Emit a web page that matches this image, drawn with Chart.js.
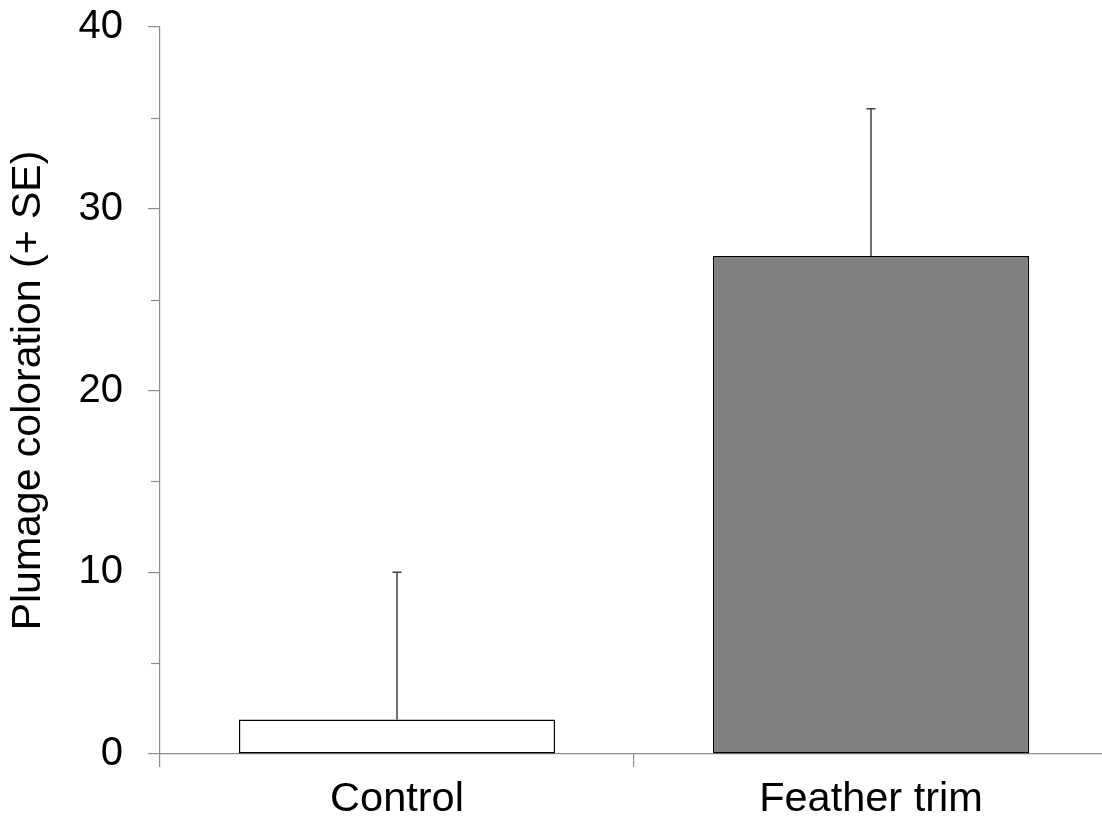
<!DOCTYPE html>
<html>
<head>
<meta charset="utf-8">
<script src="https://cdn.jsdelivr.net/npm/chart.js@4.4.1/dist/chart.umd.min.js"></script>
<style>
  html, body { margin: 0; padding: 0; background: #fff; overflow: hidden; width: 1102px; height: 825px; }
  canvas { display: block; }
</style>
</head>
<body>
<canvas id="myChart" width="1108" height="825"></canvas>
<script>
var groups = ["Control", "Feather trim"];
var means = [1.9, 27.4];
var errors = [8.1, 8.1];
var barColors = ["#ffffff", "#808080"];
var yTicks = [0, 10, 20, 30, 40];
var minorTicks = [5, 15, 25, 35];

var axisGray = "#8c8c8c";
var font = "Liberation Sans, Arial, sans-serif";

// error bars (+ SE only) and the short minor ticks on the y axis
var extras = {
  id: "extras",
  afterDatasetsDraw: function(chart) {
    var ctx = chart.ctx;
    var x = chart.scales.x, y = chart.scales.y;
    ctx.save();
    ctx.strokeStyle = "#404040";
    ctx.lineWidth = 1.5;
    for (var i = 0; i < groups.length; i++) {
      var px = x.getPixelForValue(i);
      var top = y.getPixelForValue(means[i] + errors[i]);
      var base = y.getPixelForValue(means[i]);
      ctx.beginPath();
      ctx.moveTo(px, base);
      ctx.lineTo(px, top);
      ctx.moveTo(px - 4.5, top);
      ctx.lineTo(px + 4.5, top);
      ctx.stroke();
    }
    ctx.strokeStyle = axisGray;
    ctx.lineWidth = 1.2;
    minorTicks.forEach(function(v) {
      var py = Math.round(y.getPixelForValue(v)) + 0.5;
      ctx.beginPath();
      ctx.moveTo(y.right - 9, py);
      ctx.lineTo(y.right, py);
      ctx.stroke();
    });
    ctx.restore();
  }
};

new Chart("myChart", {
  type: "bar",
  data: {
    labels: groups,
    datasets: [{
      data: means,
      backgroundColor: barColors,
      borderColor: "#000",
      borderWidth: 1.5,
      borderSkipped: false,
      barPercentage: 0.667,
      categoryPercentage: 1
    }]
  },
  options: {
    responsive: false,
    animation: false,
    layout: {padding: {top: 27, right: 0, bottom: 0, left: 0}},
    plugins: {legend: {display: false}, tooltip: {enabled: false}},
    scales: {
      x: {
        grid: {drawOnChartArea: false, offset: true, tickLength: 13, color: axisGray, lineWidth: 1.2},
        border: {color: axisGray, width: 1.2},
        ticks: {color: "#000", font: {family: font, size: 41.5}, padding: 8},
        afterFit: function(s) { s.height = 71; s.paddingLeft = 0; s.paddingRight = 0; }
      },
      y: {
        min: 0,
        max: 40,
        afterBuildTicks: function(s) { s.ticks = yTicks.map(function(v) { return {value: v}; }); },
        grid: {drawOnChartArea: false, tickLength: 12, color: axisGray, lineWidth: 1.2},
        border: {color: axisGray, width: 1.2},
        ticks: {color: "#000", font: {family: font, size: 40}, padding: 25},
        title: {
          display: true,
          text: "Plumage coloration (+ SE)",
          color: "#000",
          font: {family: font, size: 41},
          padding: {top: 4, bottom: 0}
        },
        afterFit: function(s) { s.width = 160; s.paddingTop = 0; s.paddingBottom = 0; }
      }
    }
  },
  plugins: [extras]
});
</script>
</body>
</html>
